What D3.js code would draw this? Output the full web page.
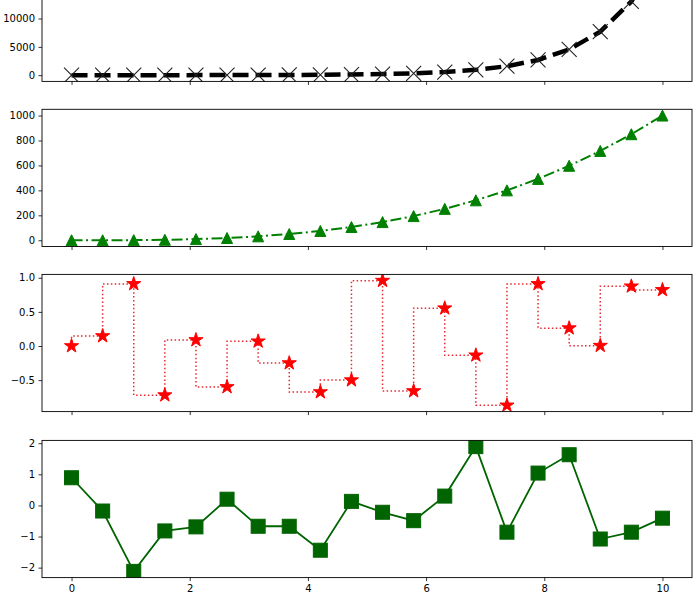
<!DOCTYPE html>
<html>
<head>
<meta charset="utf-8">
<script src="https://cdn.jsdelivr.net/npm/d3@7"></script>
<style>
  html, body { margin: 0; padding: 0; background: #fff; }
  svg { display: block; font-family: "DejaVu Sans", sans-serif; }
</style>
</head>
<body>
<script>
// ---- data ----
const xValues = [0, 0.5263, 1.0526, 1.5789, 2.1053, 2.6316, 3.1579, 3.6842, 4.2105, 4.7368,
                 5.2632, 5.7895, 6.3158, 6.8421, 7.3684, 7.8947, 8.4211, 8.9474, 9.4737, 10];
const expValues = [1, 1.69, 2.87, 4.85, 8.21, 13.9, 23.5, 39.8, 67.4, 114.1,
                   193.1, 326.9, 553.3, 936.5, 1585.2, 2683.2, 4541.9, 7688, 13013, 22026];
const cubeValues = [0, 0.15, 1.17, 3.94, 9.33, 18.2, 31.5, 50.0, 74.6, 106.3,
                    145.8, 194.0, 251.9, 320.3, 400.0, 492.0, 597.2, 716.3, 850.3, 1000];
const stepValues = [0.0, 0.146, 0.91, -0.72, 0.088, -0.60, 0.069, -0.25, -0.675, -0.50,
                    0.958, -0.66, 0.554, -0.136, -0.87, 0.91, 0.262, 0.005, 0.875, 0.822];
const noiseValues = [0.89, -0.18, -2.12, -0.82, -0.69, 0.20, -0.67, -0.67, -1.44, 0.13,
                     -0.22, -0.49, 0.30, 1.89, -0.86, 1.04, 1.63, -1.08, -0.86, -0.41];
const xTicks = [0, 2, 4, 6, 8, 10];
const expTicks = [0, 5000, 10000];
const cubeTicks = [0, 200, 400, 600, 800, 1000];
const stepTicks = [-0.5, 0.0, 0.5, 1.0];
const noiseTicks = [-2, -1, 0, 1, 2];

// ---- layout ----
const W = 700, H = 600;
const left = 42, right = 692;
const panelH = 137.2;
const panelTops = [-55.8, 109.3, 274.4, 440.4];

const svg = d3.select("body").append("svg").attr("width", W).attr("height", H);

const x = d3.scaleLinear().domain([-0.5, 10.5]).range([left, right]);

function padDomain(vals) {
  const [mn, mx] = d3.extent(vals);
  const m = (mx - mn) * 0.05;
  return [mn - m, mx + m];
}

const panels = [
  { values: expValues, ticks: expTicks, fmt: d3.format("d") },
  { values: cubeValues, ticks: cubeTicks, fmt: d3.format("d") },
  { values: stepValues, ticks: stepTicks, fmt: d3.format(".1f") },
  { values: noiseValues, ticks: noiseTicks, fmt: d3.format("d") }
];

panels.forEach((p, i) => {
  const top = panelTops[i], bottom = top + panelH;
  p.y = d3.scaleLinear().domain(padDomain(p.values)).range([bottom, top]);
  p.g = svg.append("g");
  svg.append("clipPath").attr("id", "clip" + i)
    .append("rect").attr("x", left).attr("y", top).attr("width", right - left).attr("height", panelH);
  p.plot = p.g.append("g").attr("clip-path", `url(#clip${i})`);

  // y axis
  const ya = p.g.append("g").attr("transform", `translate(${left},0)`)
    .call(d3.axisLeft(p.y).tickValues(p.ticks).tickFormat(p.fmt).tickSize(3.5).tickPadding(3.5));
  ya.select(".domain").remove();
  ya.selectAll("text").attr("font-size", 10).attr("fill", "#000").attr("font-family", "DejaVu Sans");
  ya.selectAll("line").attr("stroke", "#000").attr("stroke-width", 0.8);

  // x axis
  const xa = p.g.append("g").attr("transform", `translate(0,${bottom})`)
    .call(d3.axisBottom(x).tickValues(xTicks).tickFormat(d3.format("d")).tickSize(3.5).tickPadding(3.5));
  xa.select(".domain").remove();
  xa.selectAll("line").attr("stroke", "#000").attr("stroke-width", 0.8);
  if (i < 3) xa.selectAll("text").remove();
  else xa.selectAll("text").attr("font-size", 10).attr("fill", "#000").attr("font-family", "DejaVu Sans");
});

const pts = vals => vals.map((v, k) => [xValues[k], v]);

// Panel 1: exp, black dashed with x markers
{
  const p = panels[0];
  const line = d3.line().x(d => x(d[0])).y(d => p.y(d[1]));
  p.plot.append("path").datum(pts(p.values)).attr("d", line)
    .attr("fill", "none").attr("stroke", "#000").attr("stroke-width", 4.5)
    .attr("stroke-dasharray", "16,7");
  const s = 7.5;
  p.plot.selectAll(".mx").data(pts(p.values)).join("path")
    .attr("transform", d => `translate(${x(d[0])},${p.y(d[1])})`)
    .attr("d", `M${-s},${-s}L${s},${s}M${-s},${s}L${s},${-s}`)
    .attr("stroke", "#222").attr("stroke-width", 1.1).attr("fill", "none");
}

// Panel 2: cube, green dash-dot with triangles
{
  const p = panels[1];
  const line = d3.line().x(d => x(d[0])).y(d => p.y(d[1]));
  p.plot.append("path").datum(pts(p.values)).attr("d", line)
    .attr("fill", "none").attr("stroke", "#008000").attr("stroke-width", 2)
    .attr("stroke-dasharray", "11,3.5,2,3.5");
  const h = 5.5;
  p.plot.selectAll(".tri").data(pts(p.values)).join("path")
    .attr("transform", d => `translate(${x(d[0])},${p.y(d[1])})`)
    .attr("d", `M0,${-h}L${-h},${h}L${h},${h}Z`)
    .attr("fill", "#008000").attr("stroke", "#008000").attr("stroke-width", 1);
}

// Panel 3: step (pre), red dotted with stars
{
  const p = panels[2];
  const line = d3.line().x(d => x(d[0])).y(d => p.y(d[1])).curve(d3.curveStepBefore);
  p.plot.append("path").datum(pts(p.values)).attr("d", line)
    .attr("fill", "none").attr("stroke", "#e8282e").attr("stroke-width", 1.5)
    .attr("stroke-dasharray", "1.5,2.4");
  const star = d3.symbol().type(d3.symbolStar).size(62)();
  p.plot.selectAll(".star").data(pts(p.values)).join("path")
    .attr("transform", d => `translate(${x(d[0])},${p.y(d[1])})`)
    .attr("d", star)
    .attr("fill", "#ff0000").attr("stroke", "#ff0000").attr("stroke-width", 1);
}

// Panel 4: noise, darkgreen solid with squares
{
  const p = panels[3];
  const line = d3.line().x(d => x(d[0])).y(d => p.y(d[1]));
  p.plot.append("path").datum(pts(p.values)).attr("d", line)
    .attr("fill", "none").attr("stroke", "#006400").attr("stroke-width", 1.8);
  const s = 7;
  p.plot.selectAll(".sq").data(pts(p.values)).join("rect")
    .attr("x", d => x(d[0]) - s).attr("y", d => p.y(d[1]) - s)
    .attr("width", 2 * s).attr("height", 2 * s)
    .attr("fill", "#006400").attr("stroke", "#006400").attr("stroke-width", 1);
}

// frames on top
panels.forEach((p, i) => {
  p.g.append("rect").attr("x", left).attr("y", panelTops[i])
    .attr("width", right - left).attr("height", panelH)
    .attr("fill", "none").attr("stroke", "#000").attr("stroke-width", 0.9);
});
</script>
</body>
</html>
